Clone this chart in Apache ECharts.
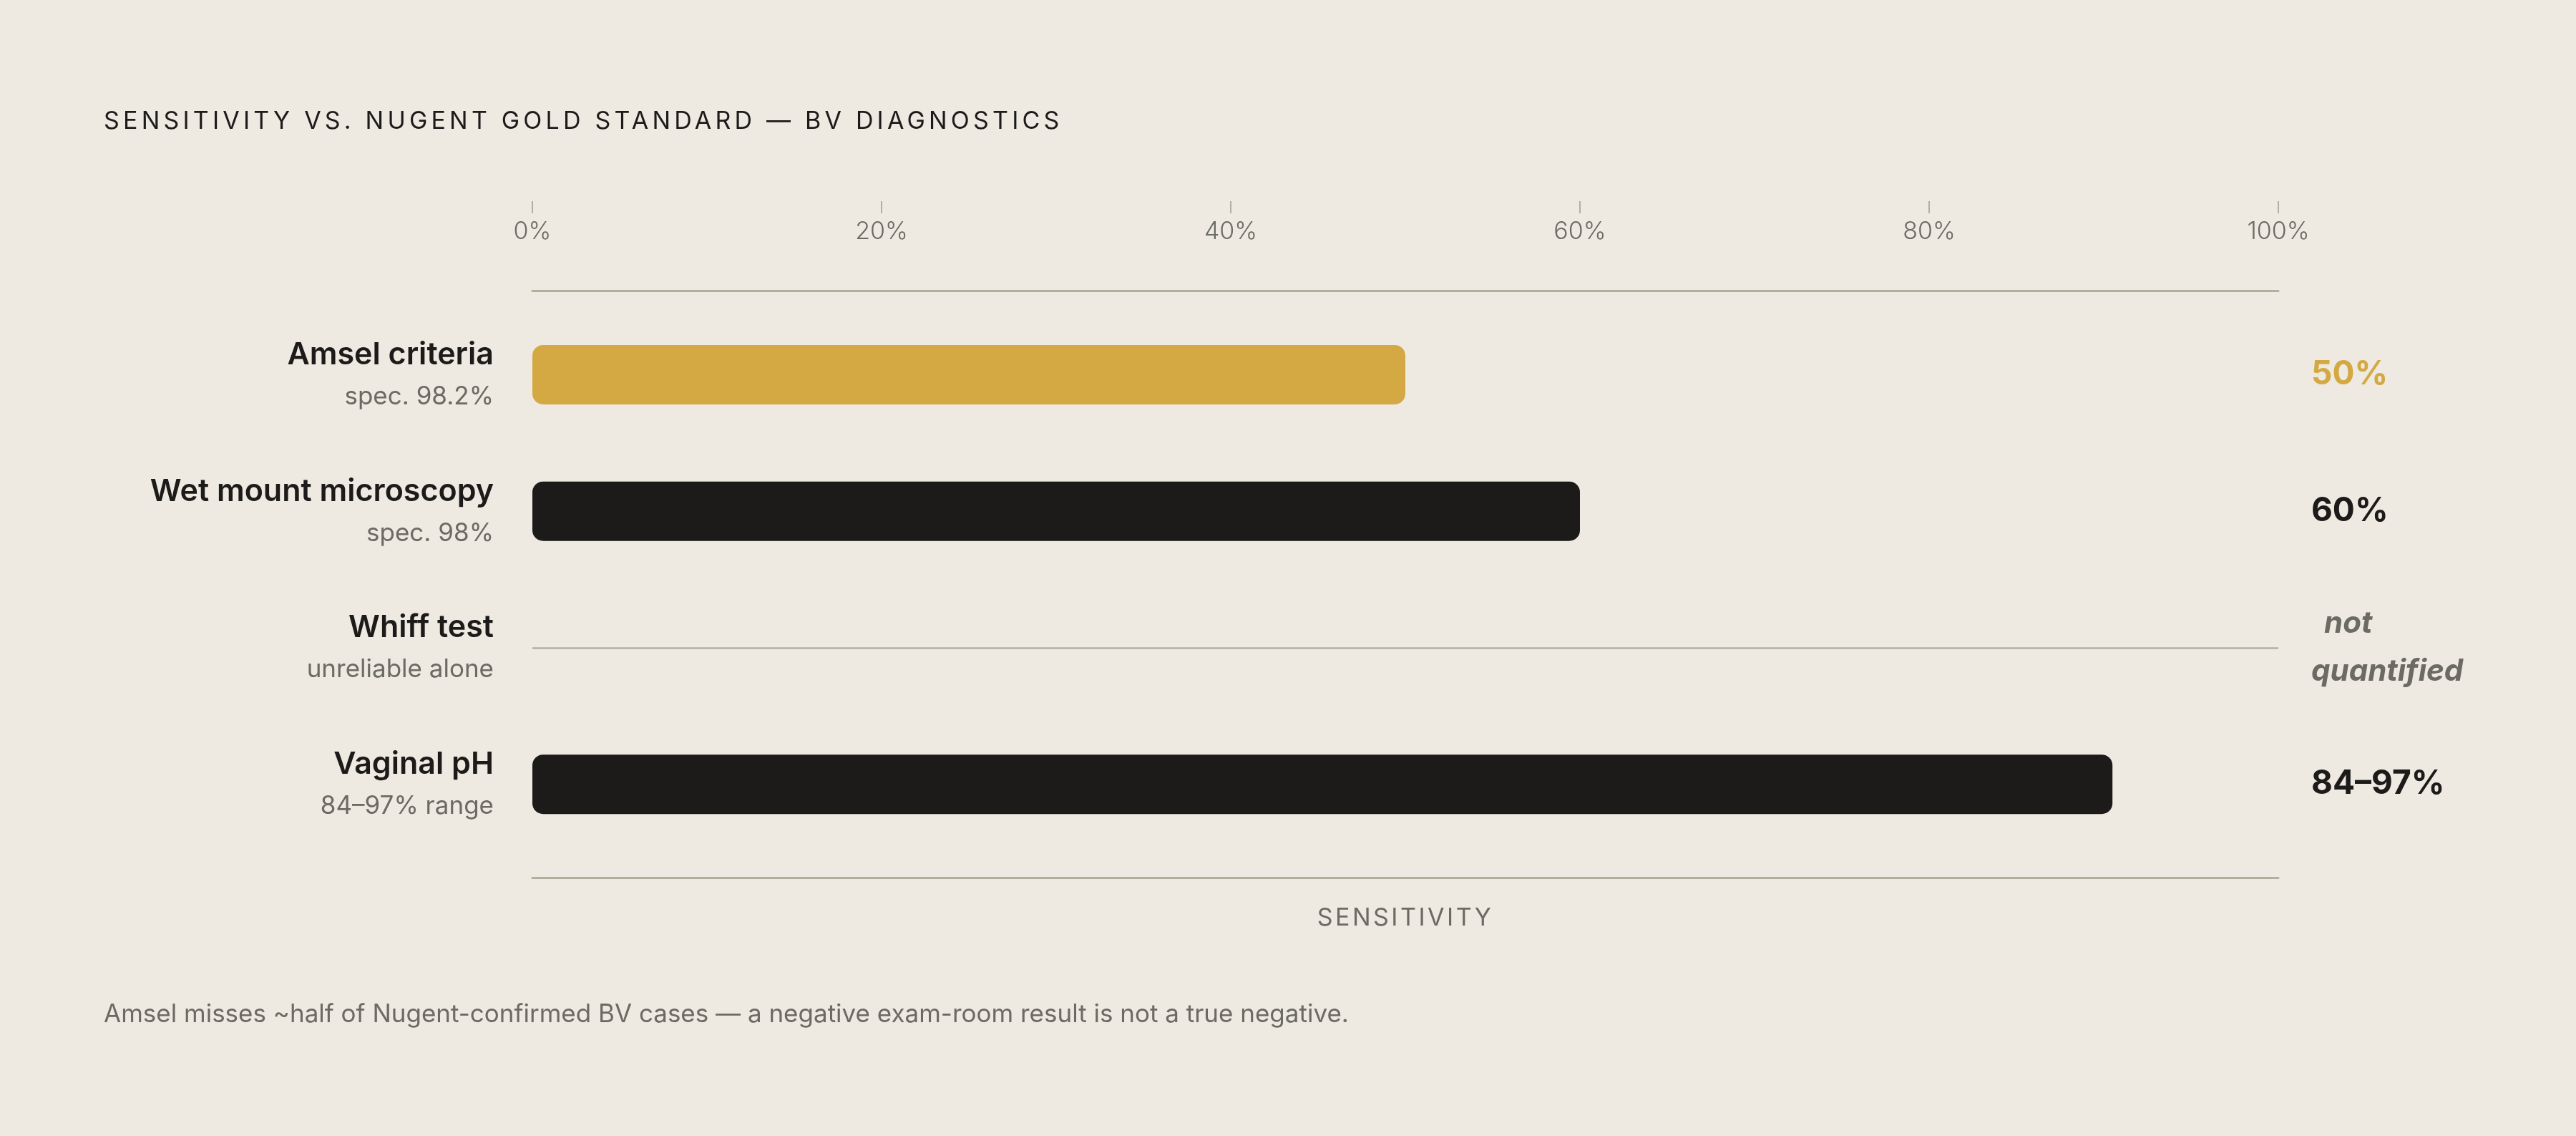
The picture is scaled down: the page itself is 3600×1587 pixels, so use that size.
<!DOCTYPE html>
<html>
<head>
<meta charset="utf-8">
<script src="https://cdn.jsdelivr.net/npm/echarts@6/dist/echarts.min.js"></script>
<style>
html,body{margin:0;padding:0;background:#eeeae2;}
#chart{width:3600px;height:1587px;}
</style>
</head>
<body>
<div id="chart"></div>
<script>
var categories = ['Amsel criteria', 'Wet mount microscopy', 'Whiff test', 'Vaginal pH'];
var subLabels = ['spec. 98.2%', 'spec. 98%', 'unreliable alone', '84\u201397% range'];
var sensitivity = [50, 60, null, 90.5];
var valueLabels = ['50%', '60%', 'not quantified', '84\u201397%'];
var notQuantified = ['Whiff test'];
var tickValues = [0, 20, 40, 60, 80, 100];

var GOLD = '#d4a944', DARK = '#1c1b19', GRAY = '#6b6a63', RULE = '#b3af9f';
var FONT = 'Inter, "Noto Sans", sans-serif';

// Letter-spaced (tracked) caps: a font family marker "TrackedN" applies N px canvas letter spacing
// to that text only (state saved and restored around the call).
(function () {
  var proto = CanvasRenderingContext2D.prototype;
  var orig = proto.fillText;
  proto.fillText = function () {
    var f = this.font || '';
    var m = /Tracked(\d+)/.exec(f);
    if (m && 'letterSpacing' in this) {
      this.save();
      this.letterSpacing = (parseInt(m[1], 10) / 10) + 'px';
      this.font = f;
      var r = orig.apply(this, arguments);
      this.restore();
      this.letterSpacing = '0px';
      this.font = f;
      return r;
    }
    return orig.apply(this, arguments);
  };
})();

var chart = echarts.init(document.getElementById('chart'), null, {renderer: 'canvas'});

var barData = sensitivity.map(function (v, i) {
  return {
    value: v === null ? '-' : v,
    itemStyle: {color: i === 0 ? GOLD : DARK}
  };
});

var option = {
  backgroundColor: '#eeeae2',
  animation: false,
  textStyle: {fontFamily: FONT},
  title: [
    {
      text: 'SENSITIVITY VS. NUGENT GOLD STANDARD \u2014 BV DIAGNOSTICS',
      left: 145, top: 153, padding: 0,
      textStyle: {fontFamily: 'Inter, Tracked52, sans-serif', fontSize: 34, fontWeight: 400, color: DARK, lineHeight: 34}
    },
    {
      text: 'Amsel misses ~half of Nugent-confirmed BV cases \u2014 a negative exam-room result is not a true negative.',
      left: 145, top: 1400, padding: 0,
      textStyle: {fontFamily: FONT, fontSize: 35, fontWeight: 400, color: GRAY, lineHeight: 35}
    }
  ],
  grid: {left: 744, right: 416, top: 428, bottom: 396, containLabel: false, outerBoundsMode: 'none'},
  xAxis: [
    {
      type: 'value', position: 'top', offset: 130,
      min: 0, max: 100, interval: 20,
      axisLine: {show: false},
      axisTick: {show: true, length: 17, inside: false, lineStyle: {color: RULE, width: 2}},
      axisLabel: {
        inside: true, margin: 26, verticalAlign: 'middle',
        formatter: '{value}%', fontFamily: FONT, fontSize: 34, fontWeight: 300, color: GRAY
      },
      splitLine: {show: false}
    },
    {
      type: 'value', position: 'top', offset: 22,
      min: 0, max: 100, interval: 20,
      axisLine: {show: true, lineStyle: {color: RULE, width: 3}},
      axisTick: {show: false}, axisLabel: {show: false}, splitLine: {show: false}
    },
    {
      type: 'value', position: 'bottom', offset: 35,
      min: 0, max: 100, interval: 20,
      name: 'SENSITIVITY', nameLocation: 'middle', nameGap: 57,
      nameTextStyle: {fontFamily: 'Inter, Tracked35, sans-serif', fontSize: 34, fontWeight: 400, color: GRAY, verticalAlign: 'middle'},
      axisLine: {show: true, lineStyle: {color: RULE, width: 3}},
      axisTick: {show: false}, axisLabel: {show: false}, splitLine: {show: false}
    }
  ],
  yAxis: [
    {
      type: 'category', data: categories, inverse: true, position: 'left',
      axisLine: {show: false}, axisTick: {show: false}, splitLine: {show: false},
      axisLabel: {
        margin: 54, align: 'right',
        formatter: function (v, i) { return '{n|' + v + '}\n{s|' + subLabels[i] + '}'; },
        rich: {
          n: {fontFamily: FONT, fontSize: 43, fontWeight: 600, color: DARK, lineHeight: 62, align: 'right'},
          s: {fontFamily: FONT, fontSize: 35, fontWeight: 400, color: GRAY, lineHeight: 55, align: 'right'}
        }
      }
    },
    {
      type: 'category', data: categories, inverse: true, position: 'right',
      axisLine: {show: false}, axisTick: {show: false}, splitLine: {show: false},
      axisLabel: {
        margin: 46, align: 'left',
        formatter: function (v, i) {
          if (notQuantified.indexOf(v) >= 0) {
            var parts = valueLabels[i].split(' ');
            return '{na1|' + parts[0] + '}\n{na2|' + parts[1] + '}';
          }
          return (i === 0 ? '{g|' : '{d|') + valueLabels[i] + '}';
        },
        rich: {
          g: {fontFamily: FONT, fontSize: 46, fontWeight: 700, color: GOLD},
          d: {fontFamily: FONT, fontSize: 46, fontWeight: 700, color: DARK},
          na1: {fontFamily: FONT, fontSize: 42, fontWeight: 700, fontStyle: 'italic', color: GRAY, lineHeight: 67, padding: [0, 0, 0, 18]},
          na2: {fontFamily: FONT, fontSize: 42, fontWeight: 700, fontStyle: 'italic', color: GRAY, lineHeight: 67}
        }
      }
    }
  ],
  series: [
    {
      type: 'bar',
      xAxisIndex: 0, yAxisIndex: 0,
      data: barData,
      barWidth: 83,
      itemStyle: {borderRadius: 15},
      silent: true,
      markLine: {
        silent: true,
        symbol: ['none', 'none'],
        label: {show: false},
        lineStyle: {color: RULE, width: 2.5, type: 'solid'},
        data: notQuantified.map(function (c) {
          return [{coord: [tickValues[0], c]}, {coord: [tickValues[tickValues.length - 1], c]}];
        })
      }
    }
  ]
};

chart.setOption(option);
</script>
</body>
</html>
